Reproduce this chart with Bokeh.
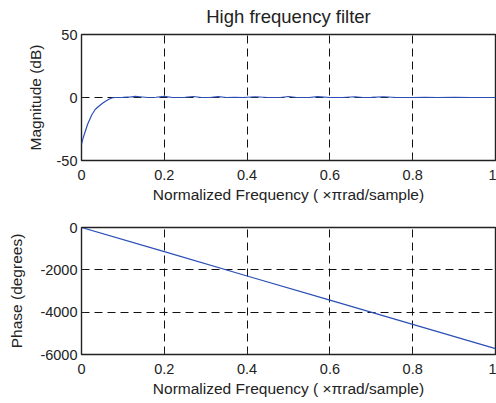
from bokeh.plotting import figure
from bokeh.layouts import column
from bokeh.models import Range1d, FixedTicker, Title
from bokeh.embed import file_html
from bokeh.resources import INLINE

# Data
mag_freq = [0.0, 0.004, 0.009, 0.015, 0.025, 0.033, 0.041, 0.05, 0.057, 0.065, 0.073, 0.08,
            0.1, 0.12, 0.13, 0.14, 0.16, 0.18, 0.2, 0.22, 0.25, 0.27, 0.29, 0.31, 0.33,
            0.35, 0.37, 0.39, 0.42, 0.45, 0.48, 0.5, 0.52, 0.55, 0.57, 0.6, 0.63, 0.66,
            0.68, 0.7, 0.73, 0.76, 0.8, 0.83, 0.86, 0.9, 0.94, 0.97, 1.0]
mag_db = [-37.0, -32.0, -27.0, -21.0, -13.7, -9.5, -7.1, -4.8, -3.2, -1.6, -0.4, 0.0,
          0.1, 0.5, 0.9, 0.6, 0.0, 0.2, 0.9, 0.0, 0.1, 0.8, 0.0, 0.0, 0.7,
          0.0, 0.2, 0.0, 0.6, 0.0, 0.0, 0.8, 0.0, 0.0, 0.7, 0.0, 0.0, 0.6,
          0.0, 0.1, 0.6, 0.0, 0.0, 0.2, 0.0, 0.2, 0.0, 0.0, 0.0]
phase_freq = [0.0, 0.2, 0.4, 0.6, 0.8, 1.0]
phase_deg = [0.0, -1140.0, -2290.0, -3430.0, -4580.0, -5720.0]

x_ticks = [0, 0.2, 0.4, 0.6, 0.8, 1]
x_tick_labels = ["0", "0.2", "0.4", "0.6", "0.8", "1"]
mag_ticks = [-50, 0, 50]
mag_tick_labels = ["-50", "0", "50"]
phase_ticks = [-6000, -4000, -2000, 0]
phase_tick_labels = ["-6000", "-4000", "-2000", "0"]
title_text = "High frequency filter"
xlabel = "Normalized Frequency ( \u00d7\u03c0rad/sample)"

FONT = "Liberation Sans"
TXT = "#222222"
LINE = "#2b4fb5"


def style(p, yticks, ylabels, ylabel, ylab_standoff):
    p.xaxis.ticker = FixedTicker(ticks=x_ticks)
    p.yaxis.ticker = FixedTicker(ticks=yticks)
    p.xaxis.major_label_overrides = dict(zip(x_ticks, x_tick_labels))
    p.yaxis.major_label_overrides = dict(zip(yticks, ylabels))
    p.xaxis.axis_label = xlabel
    p.yaxis.axis_label = ylabel
    for ax in (p.xaxis[0], p.yaxis[0]):
        ax.axis_line_color = None
        ax.major_tick_in = 4
        ax.major_tick_out = 0
        ax.major_tick_line_color = TXT
        ax.minor_tick_line_color = None
        ax.major_label_text_font = FONT
        ax.major_label_text_font_size = "14.5px"
        ax.major_label_text_color = TXT
        ax.axis_label_text_font = FONT
        ax.axis_label_text_font_size = "15.5px"
        ax.axis_label_text_font_style = "normal"
        ax.axis_label_text_color = TXT
    p.yaxis[0].major_label_standoff = 4
    p.xaxis[0].major_label_standoff = 9
    p.yaxis[0].axis_label_standoff = ylab_standoff
    p.xaxis[0].axis_label_standoff = 3
    for g in (p.xgrid[0], p.ygrid[0]):
        g.grid_line_color = "#111111"
        g.grid_line_dash = "8 5"
        g.grid_line_width = 1
    p.outline_line_color = TXT
    p.outline_line_width = 1.4
    p.background_fill_color = "white"
    p.border_fill_color = "white"


p1 = figure(frame_width=414, frame_height=126, output_backend="svg", toolbar_location=None,
            x_range=Range1d(0, 1), y_range=Range1d(-50, 50),
            min_border_left=81, min_border_right=1, min_border_top=33, min_border_bottom=49)
p1.title = Title(text=title_text, align="center", vertical_align="top", text_font=FONT,
                 text_font_size="18.5px", text_font_style="normal", text_color=TXT,
                 standoff=11)
style(p1, mag_ticks, mag_tick_labels, "Magnitude (dB)", 10)
p1.line(mag_freq, mag_db, line_color=LINE, line_width=1.2)

p2 = figure(frame_width=414, frame_height=127, output_backend="svg", toolbar_location=None,
            x_range=Range1d(0, 1), y_range=Range1d(-6000, 0),
            min_border_left=81, min_border_right=1, min_border_top=18, min_border_bottom=50)
style(p2, phase_ticks, phase_tick_labels, "Phase (degrees)", 12)
p2.line(phase_freq, phase_deg, line_color=LINE, line_width=1.2)

layout = column(p1, p2, spacing=0)
open("out.html", "w").write(file_html(layout, INLINE))
